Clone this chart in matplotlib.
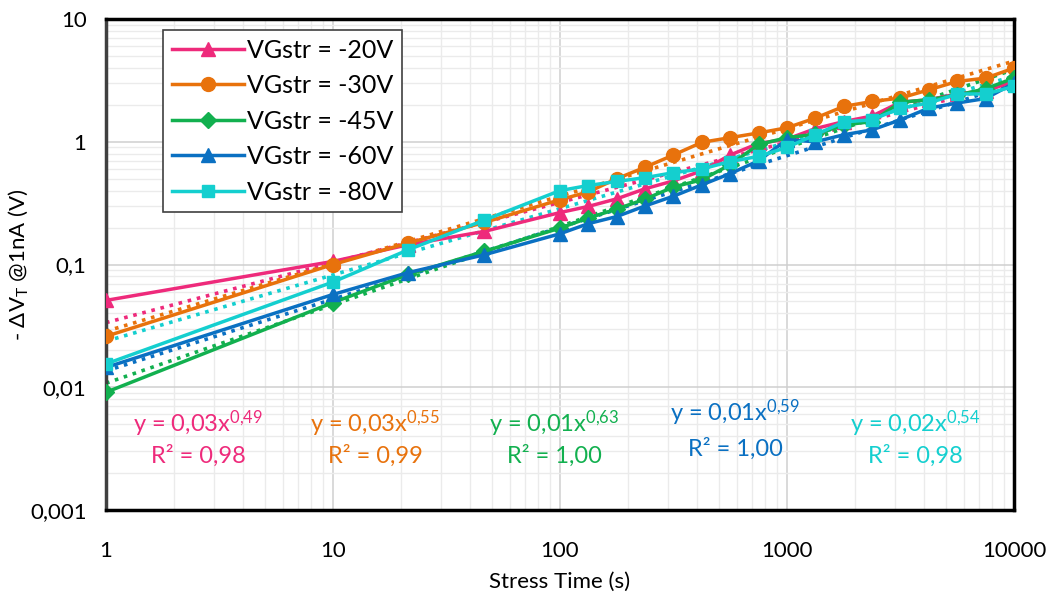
import numpy as np
import matplotlib
matplotlib.use("Agg")
import matplotlib.pyplot as plt
from matplotlib.ticker import FixedLocator, FixedFormatter, LogLocator, NullFormatter

plt.rcParams['font.family'] = ['Lato', 'DejaVu Sans']
plt.rcParams['mathtext.fontset'] = 'custom'
plt.rcParams['mathtext.rm'] = 'Lato'
plt.rcParams['mathtext.it'] = 'Lato:italic'

stress_time = [1, 10, 21.5, 46.4, 100, 133, 178, 237, 316, 422, 562, 750,
               1000, 1334, 1778, 2371, 3162, 4217, 5623, 7499, 10000]

v_m20 = [0.051, 0.106, 0.145, 0.186, 0.265, 0.297, 0.343, 0.414, 0.48, 0.58, 0.78, 0.97,
         1.05, 1.28, 1.46, 1.62, 2.1, 2.2, 2.45, 2.6, 3.1]
v_m30 = [0.026, 0.10, 0.15, 0.22, 0.337, 0.39, 0.50, 0.62, 0.78, 0.99, 1.08, 1.18,
         1.30, 1.56, 1.94, 2.13, 2.27, 2.65, 3.1, 3.3, 3.98]
v_m45 = [0.0091, 0.049, 0.083, 0.128, 0.198, 0.239, 0.283, 0.341, 0.428, 0.49, 0.65, 0.95,
         1.08, 1.15, 1.37, 1.46, 2.1, 2.2, 2.4, 2.7, 3.3]
v_m60 = [0.0145, 0.057, 0.086, 0.12, 0.178, 0.215, 0.246, 0.30, 0.36, 0.446, 0.55, 0.70,
         1.04, 1.0, 1.14, 1.25, 1.51, 1.88, 2.07, 2.25, 3.0]
v_m80 = [0.0155, 0.072, 0.132, 0.23, 0.40, 0.44, 0.475, 0.51, 0.56, 0.60, 0.69, 0.76,
         0.90, 1.14, 1.45, 1.51, 1.88, 2.07, 2.45, 2.45, 2.82]

labels = ["VGstr = -20V", "VGstr = -30V", "VGstr = -45V", "VGstr = -60V", "VGstr = -80V"]
fit_base = ["y = 0,03x", "y = 0,03x", "y = 0,01x", "y = 0,01x", "y = 0,02x"]
fit_exp = ["0,49", "0,55", "0,63", "0,59", "0,54"]
r2_labels = ["R² = 0,98", "R² = 0,99", "R² = 1,00", "R² = 1,00", "R² = 0,98"]

y_ticks = [0.001, 0.01, 0.1, 1, 10]
y_ticklabels = ["0,001", "0,01", "0,1", "1", "10"]
x_ticks = [1, 10, 100, 1000, 10000]
x_ticklabels = ["1", "10", "100", "1000", "10000"]

colors = ["#EE2A7B", "#E8720C", "#12B04F", "#0A70C2", "#14CFCF"]
markers = ["^", "o", "D", "^", "s"]
msizes = [10, 10, 8, 10, 9]
series = [v_m20, v_m30, v_m45, v_m60, v_m80]

# annotation positions in pixels (center x, y of first line, y of second line)
ann_pos = [(198, 424, 456), (375, 424, 456), (554, 424, 456), (735, 413, 449), (915, 424, 456)]

W, H = 1051, 604
fig = plt.figure(figsize=(W / 100, H / 100), dpi=100)
ax = fig.add_axes([106 / W, 1 - 510 / H, (1014 - 106) / W, (510 - 19) / H])
ax.set_xscale('log')
ax.set_yscale('log')
ax.set_xlim(1, 10000)
ax.set_ylim(0.001, 10)

x = np.array(stress_time, dtype=float)
xf = np.logspace(0, 4, 200)
for vals, c, m, ms, lab in zip(series, colors, markers, msizes, labels):
    y = np.array(vals, dtype=float)
    ax.plot(x, y, color=c, marker=m, markersize=ms, linewidth=2.5, label=lab, zorder=3)
for vals, c in zip(series, colors):
    y = np.array(vals, dtype=float)
    b, a = np.polyfit(np.log10(x), np.log10(y), 1)
    ax.plot(xf, 10 ** a * xf ** b, color=c, linestyle=(0, (1, 1.6)), linewidth=2.6, zorder=2)

ax.xaxis.set_major_locator(FixedLocator(x_ticks))
ax.xaxis.set_major_formatter(FixedFormatter(x_ticklabels))
ax.yaxis.set_major_locator(FixedLocator(y_ticks))
ax.yaxis.set_major_formatter(FixedFormatter(y_ticklabels))
ax.xaxis.set_minor_locator(LogLocator(base=10, subs=np.arange(2, 10)))
ax.yaxis.set_minor_locator(LogLocator(base=10, subs=np.arange(2, 10)))
ax.xaxis.set_minor_formatter(NullFormatter())
ax.yaxis.set_minor_formatter(NullFormatter())
ax.tick_params(which='both', length=0)
ax.tick_params(axis='x', pad=22, labelsize=16)
ax.tick_params(axis='y', pad=14, labelsize=16)
ax.grid(True, which='major', color='#cfcfcf', linewidth=1.1, zorder=0)
ax.grid(True, which='minor', color='#ebebeb', linewidth=1.0, zorder=0)
ax.set_axisbelow(True)
for s in ax.spines.values():
    s.set_color('black')
    s.set_linewidth(2.5)
ax.spines['left'].set_color('#404040')

ax.set_xlabel("Stress Time (s)", fontsize=16, labelpad=8)
ax.set_ylabel("- ΔV$_\\mathregular{T}$ @1nA (V)", fontsize=16)
ax.yaxis.set_label_coords(-(106 - 30) / (1014 - 106), 0.5)

leg = ax.legend(loc='upper left', bbox_to_anchor=(0.063, 0.978), fontsize=18,
                frameon=True, fancybox=False, edgecolor='#404040', framealpha=1,
                handlelength=2.9, handletextpad=0.1, labelspacing=0.5,
                borderpad=0.35, borderaxespad=0)
leg.get_frame().set_linewidth(1.2)

for (cx, y1, y2), tb, te, t2, c in zip(ann_pos, fit_base, fit_exp, r2_labels, colors):
    t1 = tb + "$^{\\mathregular{" + te.replace(",", "{,}") + "}}$"
    fig.text(cx / W, 1 - y1 / H, t1, color=c, fontsize=17, ha='center', va='center')
    fig.text(cx / W, 1 - y2 / H, t2, color=c, fontsize=17, ha='center', va='center')

fig.savefig("out.png", dpi=100)
